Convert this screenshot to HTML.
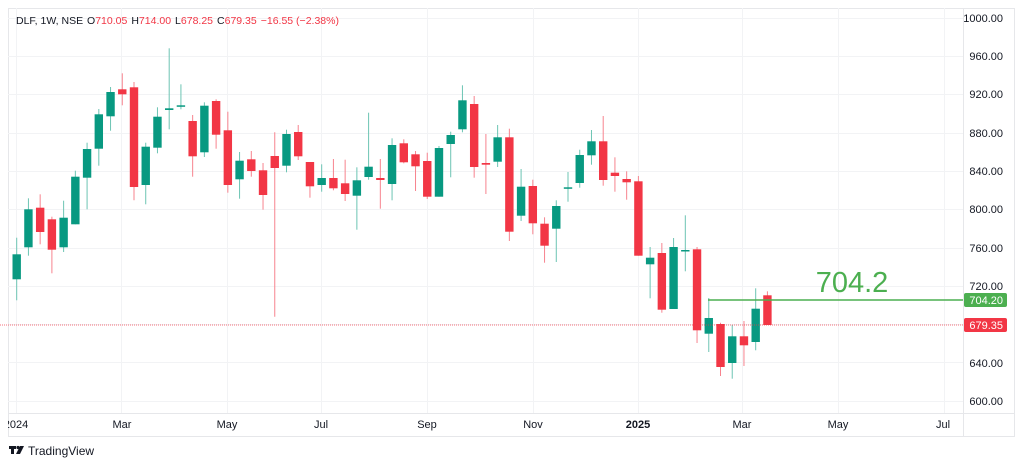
<!DOCTYPE html>
<html><head><meta charset="utf-8"><style>
html,body{margin:0;padding:0;background:#fff;}
svg{display:block;font-family:"Liberation Sans",sans-serif;}
</style></head><body>
<svg id="c" width="1024" height="466" viewBox="0 0 1024 466">
<rect x="0" y="0" width="1024" height="466" fill="#fff"/>
<rect x="8.5" y="8.5" width="1006" height="428" fill="none" stroke="#e6e7ea"/>
<line x1="963.5" y1="8" x2="963.5" y2="437" stroke="#e6e7ea"/>
<line x1="8" y1="413.5" x2="1015" y2="413.5" stroke="#e6e7ea"/>
<g stroke="#f2f3f5" stroke-width="1">
<line x1="8" x2="963" y1="18.5" y2="18.5"/><line x1="8" x2="963" y1="56.5" y2="56.5"/>
<line x1="8" x2="963" y1="94.5" y2="94.5"/><line x1="8" x2="963" y1="133.5" y2="133.5"/>
<line x1="8" x2="963" y1="171.5" y2="171.5"/><line x1="8" x2="963" y1="209.5" y2="209.5"/>
<line x1="8" x2="963" y1="248.5" y2="248.5"/><line x1="8" x2="963" y1="286.5" y2="286.5"/>
<line x1="8" x2="963" y1="324.5" y2="324.5"/><line x1="8" x2="963" y1="362.5" y2="362.5"/>
<line x1="8" x2="963" y1="401.5" y2="401.5"/>
<line y1="8" y2="413" x1="16.5" x2="16.5"/><line y1="8" y2="413" x1="121.5" x2="121.5"/>
<line y1="8" y2="413" x1="227.5" x2="227.5"/><line y1="8" y2="413" x1="321.5" x2="321.5"/>
<line y1="8" y2="413" x1="427.5" x2="427.5"/><line y1="8" y2="413" x1="533.5" x2="533.5"/>
<line y1="8" y2="413" x1="638.5" x2="638.5"/><line y1="8" y2="413" x1="742.5" x2="742.5"/>
<line y1="8" y2="413" x1="838.5" x2="838.5"/><line y1="8" y2="413" x1="944.5" x2="944.5"/>
</g>
<g font-size="11" fill="#131722" text-anchor="end">
<text x="1003" y="22">1000.00</text><text x="1003" y="60">960.00</text>
<text x="1003" y="98">920.00</text><text x="1003" y="137">880.00</text>
<text x="1003" y="175">840.00</text><text x="1003" y="213">800.00</text>
<text x="1003" y="252">760.00</text><text x="1003" y="290">720.00</text>
<text x="1003" y="367">640.00</text><text x="1003" y="405">600.00</text>
</g>
<g font-size="11" fill="#131722" text-anchor="middle">
<text x="16" y="428">2024</text><text x="122" y="428">Mar</text><text x="227" y="428">May</text>
<text x="321" y="428">Jul</text><text x="427" y="428">Sep</text><text x="533" y="428">Nov</text>
<text x="638" y="428" font-weight="bold">2025</text><text x="742" y="428">Mar</text>
<text x="838" y="428">May</text><text x="943" y="428">Jul</text>
</g>
<rect x="0" y="414" width="8" height="20" fill="#fff"/>
<g id="candles"></g>
<line x1="0" x2="963" y1="325" y2="325" stroke="#f23645" stroke-width="1" stroke-dasharray="1,1" opacity="0.7"/>
<line x1="708" x2="963" y1="300" y2="300" stroke="#4caf50" stroke-width="1.5"/>
<text x="852" y="292" font-size="29" fill="#4caf50" text-anchor="middle">704.2</text>
<rect x="964" y="293" width="43" height="14" rx="2" fill="#4caf50"/>
<text x="1003" y="304" font-size="11" fill="#fff" text-anchor="end">704.20</text>
<rect x="964" y="318" width="43" height="14" rx="2" fill="#f23645"/>
<text x="1003" y="329" font-size="11" fill="#fff" text-anchor="end">679.35</text>
<text x="16" y="24" font-size="10.5" fill="#131722">DLF, 1W, NSE <tspan dx="1">O</tspan><tspan fill="#f23645">710.05</tspan><tspan dx="4">H</tspan><tspan fill="#f23645">714.00</tspan><tspan dx="4">L</tspan><tspan fill="#f23645">678.25</tspan><tspan dx="4">C</tspan><tspan fill="#f23645">679.35</tspan><tspan dx="4" fill="#f23645">−16.55 (−2.38%)</tspan></text>
<g fill="#131722"><rect x="9" y="446" width="7" height="3"/><rect x="11" y="446" width="3" height="8"/><circle cx="18" cy="447.5" r="1.6"/><polygon points="20,446 24,446 20,454 16,454"/></g>
<text x="28" y="455" font-size="12" fill="#131722">TradingView</text>
</svg>
<script>
var d=[
['g',254.3,279.3,237.7,300.3],['g',209.3,247.3,198.3,255.7],['r',207.7,232,194.3,244.3],['r',219.3,249.7,216.7,273.3],['g',217.7,247.3,200.7,252],
['g',176.7,224.3,170.7,224.3],['g',149,177.7,142.7,209.3],['g',114.3,148.7,109,165.7],['g',92,116.3,87,130.7],['r',89.3,94.3,73.3,105.3],
['r',87.3,187,82,200.3],['g',146.7,185,142.7,204.3],['g',116.7,147.7,107.3,153.3],['g',108.3,110,48.3,129.3],['g',105.3,106.7,84.3,109.3],
['r',121,156.3,115,176.7],['g',105.7,152.3,102.3,157],['r',101,134.7,99.3,148.7],['r',130.3,185,111.7,192.7],['g',160.7,179.3,152,198.7],
['r',159.3,171,151,176.7],['r',170.3,195,163,209.7],['r',156,168,132.3,316.7],['g',134,165.7,129.7,172.3],['r',132,156.3,125,160],
['r',162,186.3,162,197.7],['g',178,185,164.3,191.7],['r',178,188.3,159,190.3],['r',183.3,194,159.7,201],['g',180.3,195.7,167.3,229.7],
['g',166.7,177,112.7,179.7],['r',178,180,159,208.7],['g',145,184,138.3,200.3],['r',143.3,162.3,139.3,163.3],['r',154.3,166.3,151,191],
['r',161,196.7,152.7,199],['g',148,196.7,146,196.7],['g',135,144,131.7,177.3],['g',100.3,129.3,85.3,132.3],['r',104,167,96,177.7],
['r',163,164.7,134,194],['g',137.3,161.7,125,167],['r',137.3,231.7,128.7,241],['g',186.7,215.7,169,221],['r',186,223.3,179.7,234.3],
['r',223.7,245.7,217.3,262.7],['g',206,228.7,200.3,262],['g',187.3,188.7,172,201.7],['g',155,183,149.7,187.7],['g',141.3,155.3,130,164.7],
['r',141.3,180,116,185.7],['r',172.7,176,157.3,191.7],['r',179,182.3,171.3,199.7],['r',181.3,255.7,176,255.7],['g',257.7,264.3,247,298.3],
['r',253,309.7,243,312.7],['g',247,309,238,309],['g',250,251.3,215.3,271.3],['r',249.3,330.3,247,343],['g',318,333.7,298,352],
['r',324,367,322.7,376],['g',336.3,363,325,378.7],['r',336.3,345.3,321,366],['g',308.7,342,288.3,350.3],['r',295.3,325,291.3,325]];
var s='';
for(var i=0;i<d.length;i++){var c=d[i],x=16.7+i*11.73,col=c[0]=='g'?'#089981':'#f23645';
var wc=c[0]=='g'?'#6cc4b3':'#f7838e';
s+='<line x1="'+x+'" x2="'+x+'" y1="'+c[3]+'" y2="'+c[4]+'" stroke="'+wc+'" stroke-width="1"/>';
var h=Math.max(c[2]-c[1],1.5);
s+='<rect x="'+(x-4.2)+'" y="'+c[1]+'" width="8.4" height="'+h+'" fill="'+col+'"/>';}
document.getElementById('candles').innerHTML=s;
</script>
</body></html>
